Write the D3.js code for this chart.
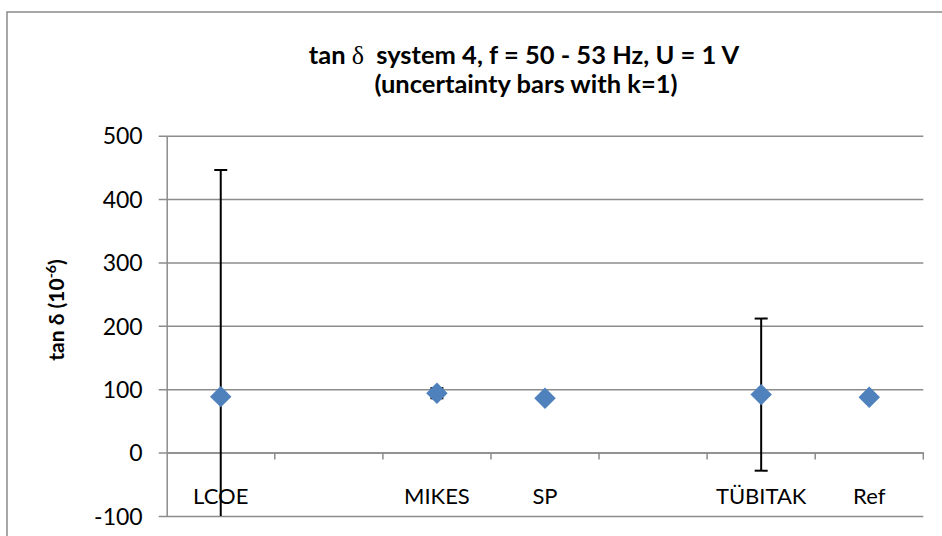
<!DOCTYPE html>
<html>
<head>
<meta charset="utf-8">
<script src="https://cdn.jsdelivr.net/npm/d3@7"></script>
<style>
  html, body { margin: 0; padding: 0; background: #fff; }
  svg { display: block; }
  text { font-family: Lato, "Open Sans", sans-serif; fill: #000; }
</style>
</head>
<body>
<div id="chart"></div>
<script>
// Category slots along the x axis (blank slots are empty positions)
const categories = ["LCOE", "", "MIKES", "SP", "", "TÜBITAK", "Ref"];
// Measured tan δ values, in 10^-6
const values = [88.3, null, 93.7, 85.8, null, 91.5, 87.5];
// Standard uncertainties (k = 1), in 10^-6
const uncertainties = [357.6, null, 8, 2, null, 120, 4.5];
// Value axis ticks
const yTicks = [-100, 0, 100, 200, 300, 400, 500];

const W = 942, H = 536;
const plot = { left: 166.7, right: 923.3, top: 135.7, bottom: 516 };

const svg = d3.select("#chart").append("svg")
  .attr("width", W).attr("height", H);

// Outer chart frame
svg.append("rect")
  .attr("x", 7).attr("y", 12)
  .attr("width", 1000).attr("height", 600)
  .attr("fill", "none").attr("stroke", "#8a8a8a").attr("stroke-width", 1.5);

const idx = categories.map((d, i) => i);
const x = d3.scaleBand().domain(idx).range([plot.left, plot.right]).padding(0);
const y = d3.scaleLinear().domain([-100, 500]).range([plot.bottom, plot.top]);

const gridColor = "#8c8c8c";

// Horizontal gridlines with short outer ticks
const yAxis = d3.axisLeft(y)
  .tickValues(yTicks)
  .tickSize(-(plot.right - plot.left))
  .tickSizeOuter(0)
  .tickPadding(24)
  .tickFormat(d => String(d));

const gy = svg.append("g")
  .attr("transform", `translate(${plot.left},0)`)
  .call(yAxis);
gy.select(".domain").attr("stroke", gridColor).attr("stroke-width", 1.5);
gy.selectAll(".tick line")
  .attr("stroke", gridColor).attr("stroke-width", 1.5)
  .attr("x1", -8);
gy.selectAll(".tick text")
  .attr("font-family", "Lato, sans-serif")
  .attr("font-size", 23)
  .attr("dy", "0.36em")
  .attr("fill", "#000");

// Category axis drawn along the zero line
const xAxis = d3.axisBottom(x)
  .tickValues([])
  .tickSizeOuter(0);
const gx = svg.append("g")
  .attr("transform", `translate(0,${y(0)})`)
  .call(xAxis);
gx.select(".domain").attr("stroke", gridColor).attr("stroke-width", 1.5);

// Tick marks at category boundaries
const boundaries = idx.map(i => x(i)).concat([x(idx[idx.length - 1]) + x.bandwidth()]).slice(1);
gx.selectAll("line.bound")
  .data(boundaries)
  .enter().append("line")
  .attr("class", "bound")
  .attr("x1", d => d).attr("x2", d => d)
  .attr("y1", 0).attr("y2", 7)
  .attr("stroke", gridColor).attr("stroke-width", 1.5);

// Category labels
svg.append("g").selectAll("text")
  .data(idx)
  .enter().append("text")
  .attr("x", i => x(i) + x.bandwidth() / 2)
  .attr("y", 504)
  .attr("text-anchor", "middle")
  .attr("font-size", 22)
  .text(i => categories[i]);

// Clip for marks inside the plot area
svg.append("clipPath").attr("id", "plotclip")
  .append("rect")
  .attr("x", plot.left).attr("y", plot.top)
  .attr("width", plot.right - plot.left)
  .attr("height", plot.bottom - plot.top);

const pts = idx.filter(i => values[i] != null);
const cx = i => x(i) + x.bandwidth() / 2;

// Uncertainty bars
const eb = svg.append("g").attr("clip-path", "url(#plotclip)");
const capW = 6.5;
pts.forEach(i => {
  const lo = y(values[i] - uncertainties[i]);
  const hi = y(values[i] + uncertainties[i]);
  eb.append("line")
    .attr("x1", cx(i)).attr("x2", cx(i))
    .attr("y1", lo).attr("y2", hi)
    .attr("stroke", "#000").attr("stroke-width", 2);
  [lo, hi].forEach(yy => {
    eb.append("line")
      .attr("x1", cx(i) - capW).attr("x2", cx(i) + capW)
      .attr("y1", yy).attr("y2", yy)
      .attr("stroke", "#000").attr("stroke-width", 2);
  });
});

// Diamond markers
svg.append("g").selectAll("path")
  .data(pts)
  .enter().append("path")
  .attr("transform", i => `translate(${cx(i)},${y(values[i])}) rotate(45)`)
  .attr("d", d3.symbol().type(d3.symbolSquare).size(230))
  .attr("fill", "#4f81bd");

// Title
const title = svg.append("text")
  .attr("x", 524).attr("y", 64)
  .attr("text-anchor", "middle")
  .attr("font-weight", "bold")
  .attr("font-size", 25.5);
title.append("tspan").text("tan ");
title.append("tspan")
  .attr("font-family", "'Liberation Serif', serif")
  .attr("font-weight", "normal")
  .attr("font-size", 26)
  .text("δ");
title.append("tspan").attr("dx", 6).text(" system 4, f = 50 - 53 Hz, U = 1 V");

svg.append("text")
  .attr("x", 526).attr("y", 93)
  .attr("text-anchor", "middle")
  .attr("font-weight", "bold")
  .attr("font-size", 25.5)
  .text("(uncertainty bars with k=1)");

// Value axis title
const ylab = svg.append("text")
  .attr("transform", "translate(64,310) rotate(-90)")
  .attr("text-anchor", "middle")
  .attr("font-weight", "bold")
  .attr("font-size", 21);
ylab.append("tspan").text("tan δ (10");
ylab.append("tspan").attr("dy", -8).attr("font-size", 14).text("-6");
ylab.append("tspan").attr("dy", 8).text(")");
</script>
</body>
</html>
